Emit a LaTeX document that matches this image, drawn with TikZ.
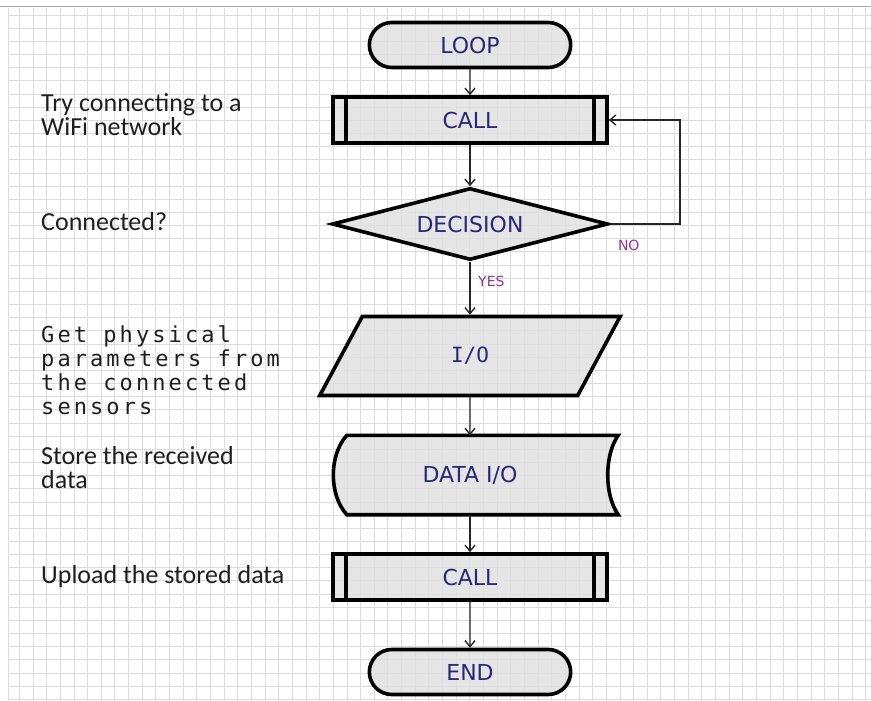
\documentclass[tikz,border=0pt]{standalone}
\usepackage{fontspec}
\setmainfont{Carlito}
\newfontfamily\boxfont{DejaVu Sans}
\newfontfamily\iofont{DejaVu Sans Mono}
\newfontfamily\notefont[LetterSpace=14]{DejaVu Sans Mono}
\usetikzlibrary{shapes.geometric,shapes.misc,arrows.meta}

\definecolor{boxtext}{RGB}{40,40,120}
\definecolor{answer}{RGB}{150,50,150}
\definecolor{notetext}{RGB}{30,30,30}

\newcommand*{\pagew}{871}
\newcommand*{\pageh}{701}
\newcommand*{\midx}{470}

\begin{document}
\begin{tikzpicture}
[
	x=1pt, y=-1pt,
	gridline/.style={gray!28,line width=0.8pt},
	box/.style={draw,line width=3.6pt,fill=black!12,fill opacity=0.85,text opacity=1,
		text=boxtext,font=\boxfont\fontsize{22}{24}\selectfont},
	terminal/.style={box,rounded rectangle,minimum width=208,minimum height=45},
	callbox/.style={box,rectangle,minimum width=274,minimum height=46,
		path picture={
			\draw[line width=3.6pt] ([xshift=13pt]path picture bounding box.north west)
				-- ([xshift=13pt]path picture bounding box.south west);
			\draw[line width=3.6pt] ([xshift=-13pt]path picture bounding box.north east)
				-- ([xshift=-13pt]path picture bounding box.south east);
		}},
	decision/.style={box,diamond,aspect=3.8,inner sep=0pt,minimum width=276,minimum height=72},
	iobox/.style={box,trapezium,trapezium left angle=70,trapezium right angle=110,
		trapezium stretches=true,minimum width=302,minimum height=79,
		font=\iofont\fontsize{21}{24}\selectfont},
	databox/.style={rectangle,minimum width=272,minimum height=79,text=boxtext,
		font=\boxfont\fontsize{22}{24}\selectfont},
	flow/.style={-{Straight Barb[length=6pt,width=10pt]},line width=1.4pt,black!85},
	answerlabel/.style={text=answer,font=\boxfont\fontsize{14}{16}\selectfont,inner sep=0pt},
	note/.style={anchor=north west,align=left,inner sep=0pt,text=notetext,
		font=\fontsize{26}{24}\selectfont}
]

	\useasboundingbox (0,0) rectangle (\pagew,\pageh);

	% grid paper
	\draw[gray!70,line width=1pt] (0,7) -- (\pagew,7);
	\draw[gridline] (8.3,8) -- (8.3,\pageh);
	\foreach \gx in {0,...,62}
		\draw[gridline] ({19.3+13.65*\gx},8) -- ({19.3+13.65*\gx},\pageh);
	\foreach \gy in {0,...,52}
		\draw[gridline] (8.3,{15+13.16*\gy}) -- (\pagew,{15+13.16*\gy});

	% flowchart
	\node[terminal] (loop) at (\midx,45) {LOOP};
	\node[callbox] (connect) at (\midx,120) {CALL};
	\node[decision] (check) at (\midx,224) {DECISION};
	\node[iobox] (read) at (\midx,356) {I/O};
	\node[databox] (store) at (\midx,475) {};
	\node[callbox] (upload) at (\midx,577) {CALL};
	\node[terminal] (stop) at (\midx,672) {END};

	% stored data outline
	\draw[line width=3.6pt,fill=black!12,fill opacity=0.85]
		([xshift=13pt]store.north west) -- ([xshift=12pt]store.north east)
		.. controls +(-14,20) and +(-14,-20) .. ([xshift=12pt]store.south east)
		-- ([xshift=13pt]store.south west)
		.. controls +(-18,-20) and +(-18,20) .. cycle;
	\node[databox] (storetext) at (store) {DATA I/O};

	% connectors
	\coordinate (back) at (680,120);
	\draw[flow] (loop) -- (connect);
	\draw[flow] (connect) -- (check);
	\draw[flow] (check) -- (read);
	\draw[flow] (check.east) -| (back) -- (connect.east);
	\draw[flow] (read) -- (store);
	\draw[flow] (store) -- (upload);
	\draw[flow] (upload) -- (stop);

	\node[answerlabel,anchor=north west] (no) at ([xshift=8pt,yshift=-16pt]check.east) {NO};
	\node[answerlabel,anchor=north west] (yes) at ([xshift=8pt,yshift=-14pt]check.south) {YES};

	% notes on the left
	\node[note] (trynote) at (41,93) {Try connecting to a\\WiFi network};
	\node[note] (connnote) at (41,212) {Connected?};
	\node[note,font=\notefont\fontsize{22}{24}\selectfont] (getnote) at (41,325)
		{Get physical\\parameters from\\the connected\\sensors};
	\node[note] (storenote) at (41,446) {Store the received\\data};
	\node[note] (uploadnote) at (41,565) {Upload the stored data};

\end{tikzpicture}
\end{document}
